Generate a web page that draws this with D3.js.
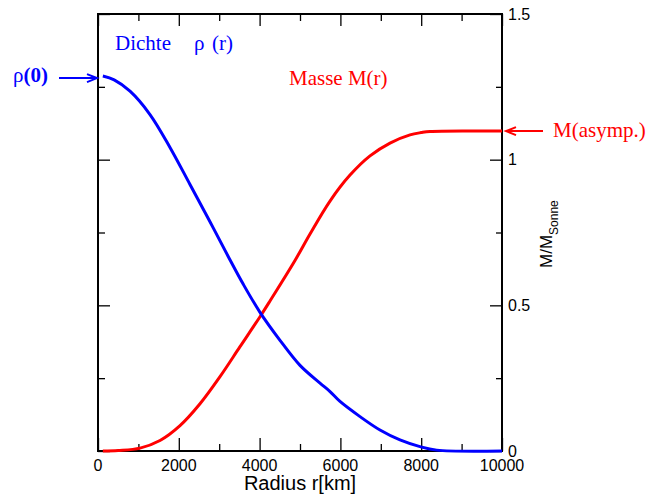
<!DOCTYPE html>
<html>
<head>
<meta charset="utf-8">
<script src="https://cdn.jsdelivr.net/npm/d3@7/dist/d3.min.js"></script>
<style>
  html, body { margin: 0; padding: 0; background: #fff; }
  svg { display: block; }
</style>
</head>
<body>
<svg id="chart" width="647" height="498"></svg>
<script>
// Radial profile: density rho(r) (relative units) and enclosed mass M(r) in solar masses
const densityRadius = [120, 400, 792, 1287, 1782, 2277, 2772, 3226, 3597, 4010, 4505, 5000, 5495, 5743, 5990, 6485, 6980, 7475, 7970, 8383, 10000];
const densityValues = [1.287, 1.274, 1.235, 1.155, 1.042, 0.915, 0.787, 0.667, 0.572, 0.476, 0.380, 0.294, 0.233, 0.204, 0.170, 0.118, 0.072, 0.038, 0.015, 0.003, 0];

const massRadius = [120, 500, 1040, 1535, 2030, 2525, 3020, 3515, 4010, 4257, 4876, 5248, 5743, 6238, 6733, 7228, 7723, 8000, 8218, 10000];
const massValues = [0, 0.002, 0.010, 0.036, 0.087, 0.162, 0.255, 0.358, 0.461, 0.515, 0.654, 0.745, 0.858, 0.947, 1.013, 1.057, 1.085, 1.093, 1.097, 1.098];

const xTickLabels = [0, 2000, 4000, 6000, 8000, 10000];
const yTickLabels = [0, 0.5, 1, 1.5];
const rho0 = densityValues[0];
const massAsymptotic = massValues[massValues.length - 1];

const svg = d3.select("#chart");
const plotLeft = 98, plotRight = 502, plotTop = 14, plotBottom = 451;

const x = d3.scaleLinear().domain([0, 10000]).range([plotLeft, plotRight]);
const y = d3.scaleLinear().domain([0, 1.5]).range([plotBottom, plotTop]);      // mass axis (right)
const yRho = d3.scaleLinear().domain([0, 1.5]).range([plotBottom, plotTop]);   // density axis (left)

const sans = "'Liberation Sans', Arial, sans-serif";
const serif = "'Liberation Serif', 'Times New Roman', serif";

// Axes with inward ticks: majors and minors drawn separately
function tickAxis(axisFn, scale, values, size) {
  return axisFn(scale).tickValues(values).tickSize(size).tickFormat("");
}
const xMajor = [0, 2000, 4000, 6000, 8000, 10000];
const xMinor = [1000, 3000, 5000, 7000, 9000];
const yMajor = [0, 0.5, 1, 1.5];
const yMinor = [0.25, 0.75, 1.25];

function styleAxis(g) {
  g.select(".domain").remove();
  g.selectAll("line").attr("stroke", "#000").attr("stroke-width", 1.3);
}

// bottom (ticks point up)
svg.append("g").attr("transform", `translate(0,${plotBottom})`).call(tickAxis(d3.axisTop, x, xMajor, 13)).call(styleAxis);
svg.append("g").attr("transform", `translate(0,${plotBottom})`).call(tickAxis(d3.axisTop, x, xMinor, 7)).call(styleAxis);
// top (ticks point down)
svg.append("g").attr("transform", `translate(0,${plotTop})`).call(tickAxis(d3.axisBottom, x, xMajor, 12)).call(styleAxis);
svg.append("g").attr("transform", `translate(0,${plotTop})`).call(tickAxis(d3.axisBottom, x, xMinor, 7)).call(styleAxis);
// left (ticks point right)
svg.append("g").attr("transform", `translate(${plotLeft},0)`).call(tickAxis(d3.axisRight, yRho, yMajor, 12)).call(styleAxis);
svg.append("g").attr("transform", `translate(${plotLeft},0)`).call(tickAxis(d3.axisRight, yRho, yMinor, 7)).call(styleAxis);
// right (ticks point left)
svg.append("g").attr("transform", `translate(${plotRight},0)`).call(tickAxis(d3.axisLeft, y, yMajor, 12)).call(styleAxis);
svg.append("g").attr("transform", `translate(${plotRight},0)`).call(tickAxis(d3.axisLeft, y, yMinor, 6)).call(styleAxis);

// frame
svg.append("rect")
  .attr("x", plotLeft).attr("y", plotTop)
  .attr("width", plotRight - plotLeft).attr("height", plotBottom - plotTop)
  .attr("fill", "none").attr("stroke", "#000").attr("stroke-width", 2);

// tick labels
svg.append("g").selectAll("text").data(xTickLabels).join("text")
  .attr("x", d => x(d)).attr("y", 471)
  .attr("text-anchor", "middle")
  .attr("font-family", sans).attr("font-size", 16)
  .text(d => d);

svg.append("g").selectAll("text").data(yTickLabels).join("text")
  .attr("x", 508).attr("y", d => y(d)).attr("dy", "0.36em")
  .attr("font-family", sans).attr("font-size", 16)
  .text(d => d);

// axis titles
svg.append("text")
  .attr("x", (plotLeft + plotRight) / 2).attr("y", 490)
  .attr("text-anchor", "middle")
  .attr("font-family", sans).attr("font-size", 20)
  .text("Radius r[km]");

const yTitle = svg.append("text")
  .attr("transform", "translate(552,268) rotate(-90)")
  .attr("font-family", sans).attr("font-size", 17);
yTitle.append("tspan").text("M/M");
yTitle.append("tspan").attr("font-size", 12).attr("dy", 6).text("Sonne");

// curves
const line = d3.line().curve(d3.curveCatmullRom.alpha(0.5));

svg.append("path")
  .attr("d", line(massRadius.map((r, i) => [x(r), y(massValues[i])])))
  .attr("fill", "none").attr("stroke", "#ff0000").attr("stroke-width", 3);

svg.append("path")
  .attr("d", line(densityRadius.map((r, i) => [x(r), yRho(densityValues[i])])))
  .attr("fill", "none").attr("stroke", "#0000ff").attr("stroke-width", 3);

// annotations
function arrow(x1, x2, yy, color) {
  const dir = Math.sign(x2 - x1);
  const g = svg.append("g").attr("stroke", color).attr("stroke-width", 2).attr("fill", "none");
  g.append("line").attr("x1", x1).attr("y1", yy).attr("x2", x2).attr("y2", yy);
  g.append("path").attr("d", `M${x2 - dir * 10},${yy - 4} L${x2},${yy} L${x2 - dir * 10},${yy + 4}`);
}

const blue = "#0000ff", red = "#ff0000";

svg.append("text").attr("x", 115).attr("y", 50)
  .attr("font-family", serif).attr("font-size", 21).attr("fill", blue).text("Dichte");
svg.append("text").attr("x", 194).attr("y", 50)
  .attr("font-family", serif).attr("font-size", 21).attr("fill", blue).text("ρ");
svg.append("text").attr("x", 212).attr("y", 50)
  .attr("font-family", serif).attr("font-size", 21).attr("fill", blue).text("(r)");

const rhoLabel = svg.append("text").attr("x", 13).attr("y", 82)
  .attr("font-family", serif).attr("font-size", 21).attr("fill", blue);
rhoLabel.append("tspan").text("ρ");
rhoLabel.append("tspan").attr("font-weight", "bold").text("(0)");
arrow(59, 97, yRho(rho0) + 2, blue);

svg.append("text").attr("x", 289).attr("y", 85)
  .attr("font-family", serif).attr("font-size", 21).attr("fill", red).text("Masse M(r)");

svg.append("text").attr("x", 553).attr("y", 137)
  .attr("font-family", serif).attr("font-size", 21).attr("fill", red).text("M(asymp.)");
arrow(543, 506, y(massAsymptotic), red);
</script>
</body>
</html>
